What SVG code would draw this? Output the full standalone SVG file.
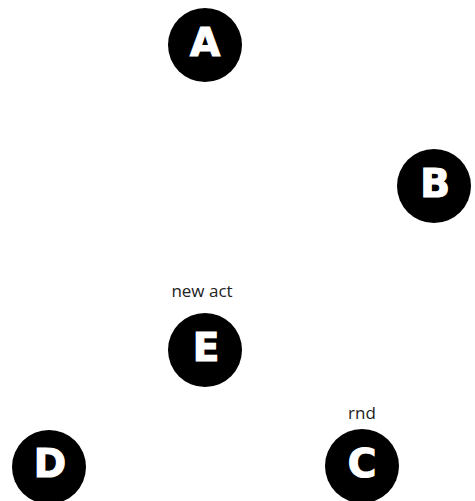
<svg xmlns="http://www.w3.org/2000/svg" width="475" height="501" viewBox="0 0 475 501">
<style>
.n{fill:#000}
.l{fill:#fff;stroke:#fff;stroke-width:1.2px;font-family:"DejaVu Sans",sans-serif;font-weight:bold;font-size:39px;text-anchor:middle}
.t{fill:#222;font-family:"Open Sans",sans-serif;font-size:17px;text-anchor:middle}
</style>
<rect width="475" height="501" fill="#fff"/>
<g id="connectors"></g>
<g id="A"><circle class="n" cx="205" cy="45" r="37"/><text class="l" x="205" y="56">A</text></g>
<g id="B"><circle class="n" cx="434" cy="186" r="37"/><text class="l" x="435" y="197">B</text></g>
<g id="E"><text class="t" x="202" y="297">new act</text><circle class="n" cx="205" cy="350" r="37"/><text class="l" x="206" y="361">E</text></g>
<g id="D"><circle class="n" cx="49" cy="467" r="37"/><text class="l" x="50" y="477">D</text></g>
<g id="C"><text class="t" x="362" y="419">rnd</text><circle class="n" cx="362" cy="466" r="37"/><text class="l" x="362" y="477">C</text></g>
</svg>
